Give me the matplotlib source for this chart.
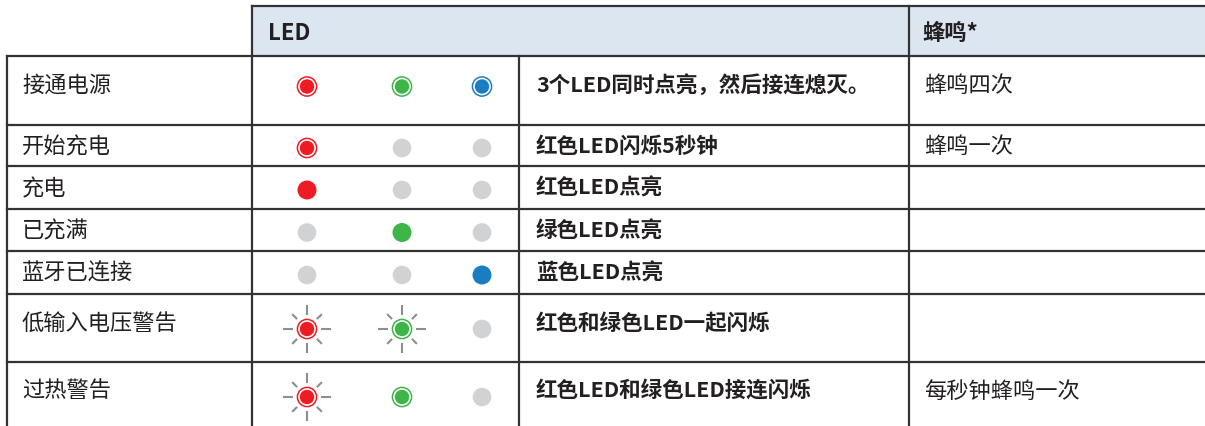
import numpy as np
import matplotlib
matplotlib.use("Agg")
import matplotlib.pyplot as plt
from matplotlib.patches import Circle, Rectangle

plt.rcParams['font.family'] = ['Noto Sans CJK SC', 'DejaVu Sans']

# 表格内容
header_led = "LED"
header_buzz = "蜂鸣*"
states = ["接通电源", "开始充电", "充电", "已充满", "蓝牙已连接", "低输入电压警告", "过热警告"]
# 每个 LED 的显示方式: ring=点亮(带圈), solid=常亮, off=熄灭, flash=闪烁
red_led = ["ring", "ring", "solid", "off", "off", "flash", "flash"]
green_led = ["ring", "off", "off", "solid", "off", "flash", "ring"]
blue_led = ["ring", "off", "off", "off", "solid", "off", "off"]
descriptions = ["3个LED同时点亮，然后接连熄灭。", "红色LED闪烁5秒钟", "红色LED点亮", "绿色LED点亮",
                "蓝色LED点亮", "红色和绿色LED一起闪烁", "红色LED和绿色LED接连闪烁"]
buzzer = ["蜂鸣四次", "蜂鸣一次", "", "", "", "", "每秒钟蜂鸣一次"]

# 版面 (像素坐标)
W, H = 1205, 427
row_edges = [57, 126, 167, 210, 252, 295, 363, H]
x_left, x_led, x_desc, x_buzz = 7, 252, 519, 909
led_x = [307, 402, 482]
led_colors = ["#ed1c24", "#3db549", "#1b7dc1"]
off_color = "#d1d2d4"
ray_color = "#8b8d90"
line_color = "#333333"
text_color = "#231f20"
fs = 16
fs_desc = 15.5

fig = plt.figure(figsize=(W / 100, H / 100), dpi=100)
ax = fig.add_axes([0, 0, 1, 1])
ax.set_xlim(0, W)
ax.set_ylim(H, 0)
ax.axis('off')

# 表头背景
ax.add_patch(Rectangle((x_led, 7), W - x_led, 50, facecolor="#dce6f1", edgecolor='none'))


def draw_led(x, y, kind, color):
    if kind == "off":
        ax.add_patch(Circle((x, y), 9.3, facecolor=off_color, edgecolor='none'))
    elif kind == "solid":
        ax.add_patch(Circle((x, y), 9.5, facecolor=color, edgecolor='none'))
    else:
        ax.add_patch(Circle((x, y), 9.6, facecolor='none', edgecolor=color, linewidth=1.1))
        ax.add_patch(Circle((x, y), 7.2, facecolor=color, edgecolor='none'))
        if kind == "flash":
            for k in range(8):
                a = k * np.pi / 4
                r0, r1 = (14, 24) if k % 2 == 0 else (14, 21)
                ax.plot([x + r0 * np.cos(a), x + r1 * np.cos(a)],
                        [y + r0 * np.sin(a), y + r1 * np.sin(a)],
                        color=ray_color, linewidth=1.5, solid_capstyle='butt')


# 表头文字
ax.text(x_led + 16, 33, header_led, fontsize=fs, fontweight='bold', va='center', color=text_color)
ax.text(x_buzz + 13, 33, header_buzz, fontsize=fs, fontweight='bold', va='center', color=text_color)

for i, state in enumerate(states):
    top, bot = row_edges[i], row_edges[i + 1]
    h = bot - top
    ty = top + min(h / 2, 28)
    ax.text(x_left + 15, ty, state, fontsize=fs, va='center', color=text_color)
    ax.text(x_desc + 17, ty, descriptions[i], fontsize=fs_desc, fontweight='bold', va='center', color=text_color)
    if buzzer[i]:
        ax.text(x_buzz + 15, ty, buzzer[i], fontsize=fs, va='center', color=text_color)
    leds = [red_led[i], green_led[i], blue_led[i]]
    for j, kind in enumerate(leds):
        iy = ty + (7 if "flash" in leds and h > 50 else 2.5)
        draw_led(led_x[j], iy, kind, led_colors[j])

# 表格线
lw = 1.6
ax.plot([x_led, W], [7, 7], color=line_color, linewidth=lw)
for y in row_edges[:-1]:
    ax.plot([x_left, W], [y, y], color=line_color, linewidth=lw)
ax.plot([x_left, x_left], [57, H], color=line_color, linewidth=lw)
ax.plot([x_led, x_led], [7, H], color=line_color, linewidth=lw)
ax.plot([x_desc, x_desc], [57, H], color=line_color, linewidth=lw)
ax.plot([x_buzz, x_buzz], [7, H], color=line_color, linewidth=lw)

fig.savefig("out.png", dpi=100)
